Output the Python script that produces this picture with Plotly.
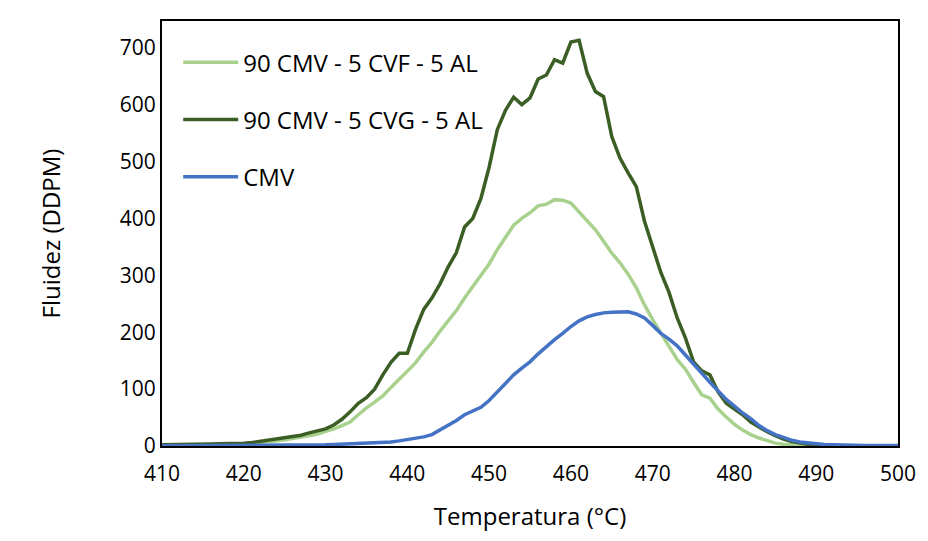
import plotly.graph_objects as go

temps = list(range(410, 501))

cvf = [1, 1, 1, 1.5, 2, 2, 2.5, 3, 3, 4,
       4, 5, 6, 7, 9, 11, 13, 15, 18, 21,
       25, 30, 36, 42, 55, 67, 77, 88, 103, 118,
       133, 146, 165, 182, 202, 220, 238, 260, 280, 300,
       320, 345, 366, 388, 400, 410, 422, 425, 433, 432,
       427, 412, 395, 380, 360, 339, 322, 302, 278, 248,
       222, 197, 175, 152, 135, 112, 90, 84, 65, 51,
       38, 28, 20, 14, 9, 5, 3, 2, 1, 1,
       0.5, 0.5, 0.5, 0.5, 0.5, 0.5, 0.5, 0.5, 0.5, 0.5, 0.5]

cvg = [2, 2, 2, 2.5, 3, 3, 3.5, 4, 4, 5,
       5, 6, 8, 10, 12, 14, 17, 19, 23, 27,
       30, 37, 47, 60, 75, 85, 100, 125, 147, 163,
       163, 205, 240, 260, 285, 315, 340, 385, 400, 435,
       490, 556, 590, 613, 600, 612, 645, 652, 679, 673,
       710, 713, 655, 623, 614, 544, 506, 480, 456, 395,
       350, 305, 270, 225, 190, 148, 132, 125, 95, 75,
       65, 55, 42, 33, 25, 18, 12, 8, 5, 3,
       2, 1, 1, 0.5, 0.5, 0.5, 0.5, 0.5, 0.5, 0.5, 0.5]

cmv = [0.5, 0.5, 0.5, 0.5, 0.5, 0.5, 0.5, 0.5, 0.5, 0.5,
       1, 1, 1, 1, 1, 1, 1, 1.5, 1.5, 1.5,
       2, 2.5, 3, 3.5, 4, 4.5, 5, 6, 7, 9,
       11, 13, 16, 20, 28, 37, 45, 55, 61, 68,
       80, 95, 110, 125, 137, 148, 162, 175, 187, 198,
       210, 220, 227, 231, 234, 235, 236, 236, 232, 225,
       212, 198, 188, 176, 160, 145, 128, 112, 97, 82,
       70, 58, 48, 36, 27, 20, 15, 10, 7, 5,
       3.5, 2.5, 2, 1.5, 1, 1, 1, 1, 1, 1, 1]

names = ["90 CMV - 5 CVF - 5 AL", "90 CMV - 5 CVG - 5 AL", "CMV"]
colors = ["#A9D18E", "#3B5E24", "#4472C4"]
widths = [3.5, 3.5, 3.5]
series = [cvf, cvg, cmv]

FONT = "Open Sans"

fig = go.Figure()
for i, (nm, ys) in enumerate(zip(names, series)):
    fig.add_trace(go.Scatter(
        x=temps, y=ys, mode="lines", name=nm, legendgroup=f"g{i}",
        line=dict(color=colors[i], width=widths[i]),
    ))

fig.update_layout(
    width=928, height=541,
    margin=dict(l=162, r=28, t=21, b=95),
    paper_bgcolor="white", plot_bgcolor="white",
    font=dict(family=FONT, color="black", size=21),
    showlegend=True,
    legend=dict(
        x=0.022, y=0.955, xanchor="left", yanchor="top",
        font=dict(family=FONT, size=24, color="black"),
        bgcolor="rgba(0,0,0,0)", tracegroupgap=23,
        traceorder="grouped", itemwidth=55,
    ),
    xaxis=dict(
        range=[410, 500], tickmode="linear", tick0=410, dtick=10,
        showgrid=False, zeroline=False, showline=True, linecolor="black",
        linewidth=2, mirror=True, ticks="", tickfont=dict(size=21),
        ticklabelstandoff=8,
        title=dict(text="Temperatura (°C)", font=dict(size=24), standoff=22),
    ),
    yaxis=dict(
        range=[0, 747], tickmode="linear", tick0=0, dtick=100,
        showgrid=False, zeroline=False, showline=True, linecolor="black",
        linewidth=2, mirror=True, ticks="", tickfont=dict(size=21),
        title=dict(text="Fluidez (DDPM)", font=dict(size=24), standoff=52),
    ),
)

fig.write_html("out.html")
